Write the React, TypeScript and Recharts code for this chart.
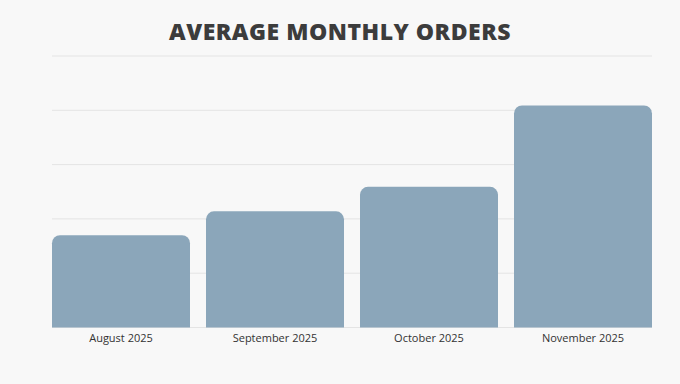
import React from 'react';
import { BarChart, Bar, XAxis, YAxis, CartesianGrid } from 'recharts';

const months = ['August 2025', 'September 2025', 'October 2025', 'November 2025'];
const orders = [170, 214, 259, 409];
const yTicks = [0, 100, 200, 300, 400, 500];

const data = months.map((m, i) => ({ month: m, orders: orders[i] }));

export default function App() {
  return (
    <div style={{ position: 'absolute', left: 0, top: 0, width: 680, height: 384, background: '#f8f8f8', overflow: 'hidden' }}>
      <div
        style={{
          position: 'absolute',
          left: 0,
          top: 15,
          width: 680,
          textAlign: 'center',
          fontFamily: '"Open Sans", sans-serif',
          fontWeight: 800,
          fontSize: 23,
          letterSpacing: 0.5,
          lineHeight: '32px',
          color: '#3c3c3c',
        }}
      >
        AVERAGE MONTHLY ORDERS
      </div>
      <div style={{ position: 'absolute', left: 0, top: 0 }}>
        <BarChart
          width={680}
          height={384}
          data={data}
          margin={{ top: 56, right: 28, bottom: 0, left: 52 }}
          barCategoryGap={8}
        >
          <CartesianGrid vertical={false} stroke="#e4e4e4" strokeWidth={1} />
          <YAxis hide domain={[0, 500]} ticks={yTicks} width={0} />
          <XAxis
            dataKey="month"
            height={56.5}
            axisLine={false}
            tickLine={false}
            padding={{ left: -8, right: -8 }}
            tickMargin={1}
            tick={{ fill: '#333333', fontSize: 11, fontFamily: '"Open Sans", sans-serif' }}
            interval={0}
          />
          <Bar dataKey="orders" fill="#8ba6ba" radius={[8, 8, 0, 0]} isAnimationActive={false} />
        </BarChart>
      </div>
    </div>
  );
}
